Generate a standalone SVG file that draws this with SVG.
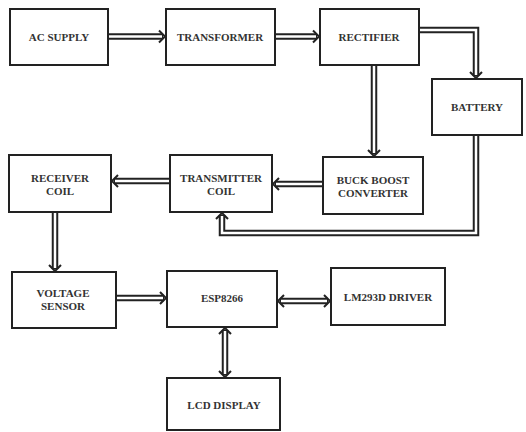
<svg xmlns="http://www.w3.org/2000/svg" xmlns:xlink="http://www.w3.org/1999/xlink" width="526" height="432" viewBox="0 0 526 432">
<style>
.box{fill:#fff;stroke:#222;stroke-width:2}
.t{font-family:"Liberation Serif","Times New Roman",serif;font-weight:bold;font-size:11px;fill:#333;text-anchor:middle}
.so{fill:none;stroke:#222;stroke-width:6.5;stroke-linejoin:miter}
.si{fill:none;stroke:#fff;stroke-width:2.5;stroke-linejoin:miter}
.hd{fill:none;stroke:#222;stroke-width:2}
</style>
<defs>
<path id="head" class="hd" d="M-6,-6 L0,0 L-6,6"/>
</defs>
<rect width="526" height="432" fill="#fff"/>
<g id="connectors">
<!-- AC -> Transformer -->
<path class="so" d="M108,36.5 H163"/><path class="si" d="M107,36.5 H162"/>
<use xlink:href="#head" transform="translate(165,36.5)"/>
<!-- Transformer -> Rectifier -->
<path class="so" d="M275,36.5 H317"/><path class="si" d="M274,36.5 H316"/>
<use xlink:href="#head" transform="translate(319,36.5)"/>
<!-- Rectifier -> Battery -->
<path class="so" d="M419,30 H476 V76"/><path class="si" d="M418,30 H476 V75"/>
<use xlink:href="#head" transform="translate(476,78) rotate(90)"/>
<!-- Rectifier -> Buck boost -->
<path class="so" d="M374,65 V154"/><path class="si" d="M374,66 V153"/>
<use xlink:href="#head" transform="translate(374,156) rotate(90)"/>
<!-- Buck boost -> Transmitter -->
<path class="so" d="M323,184 H275"/><path class="si" d="M324,184 H276"/>
<use xlink:href="#head" transform="translate(273,184) rotate(180)"/>
<!-- Transmitter -> Receiver -->
<path class="so" d="M170,181 H114"/><path class="si" d="M171,181 H115"/>
<use xlink:href="#head" transform="translate(112,181) rotate(180)"/>
<!-- Battery -> Transmitter -->
<path class="so" d="M476,135 V233 H222 V215"/><path class="si" d="M476,134 V233 H222 V216"/>
<use xlink:href="#head" transform="translate(222,213) rotate(-90)"/>
<!-- Receiver -> Voltage sensor -->
<path class="so" d="M55,212 V269"/><path class="si" d="M55,213 V268"/>
<use xlink:href="#head" transform="translate(55,271) rotate(90)"/>
<!-- Voltage sensor -> ESP -->
<path class="so" d="M116,298 H164"/><path class="si" d="M115,298 H163"/>
<use xlink:href="#head" transform="translate(166,298)"/>
<!-- ESP <-> LM293D -->
<path class="so" d="M280,301 H328"/><path class="si" d="M281,301 H327"/>
<use xlink:href="#head" transform="translate(330,301)"/>
<use xlink:href="#head" transform="translate(278,301) rotate(180)"/>
<!-- ESP <-> LCD -->
<path class="so" d="M225,330 V375"/><path class="si" d="M225,331 V374"/>
<use xlink:href="#head" transform="translate(225,377) rotate(90)"/>
<use xlink:href="#head" transform="translate(225,328) rotate(-90)"/>
</g>
<g id="ac-supply"><rect class="box" x="10" y="9" width="98" height="56"/><text class="t" x="59" y="41">AC SUPPLY</text></g>
<g id="transformer"><rect class="box" x="166" y="9" width="109" height="56"/><text class="t" x="220" y="41">TRANSFORMER</text></g>
<g id="rectifier"><rect class="box" x="320" y="9" width="99" height="56"/><text class="t" x="369" y="41">RECTIFIER</text></g>
<g id="battery"><rect class="box" x="432" y="79" width="90" height="56"/><text class="t" x="477" y="111">BATTERY</text></g>
<g id="receiver-coil"><rect class="box" x="9" y="155" width="102" height="57"/><text class="t" x="60" y="182">RECEIVER</text><text class="t" x="60" y="195">COIL</text></g>
<g id="transmitter-coil"><rect class="box" x="170" y="155" width="102" height="57"/><text class="t" x="221" y="182">TRANSMITTER</text><text class="t" x="221" y="195">COIL</text></g>
<g id="buck-boost"><rect class="box" x="323" y="157" width="100" height="57"/><text class="t" x="373" y="184">BUCK BOOST</text><text class="t" x="373" y="197">CONVERTER</text></g>
<g id="voltage-sensor"><rect class="box" x="12" y="272" width="104" height="56"/><text class="t" x="63" y="297">VOLTAGE</text><text class="t" x="63" y="310">SENSOR</text></g>
<g id="esp8266"><rect class="box" x="167" y="271" width="110" height="56"/><text class="t" x="222" y="302">ESP8266</text></g>
<g id="lm293d"><rect class="box" x="331" y="268" width="114" height="57"/><text class="t" x="388" y="301">LM293D DRIVER</text></g>
<g id="lcd-display"><rect class="box" x="167" y="378" width="113" height="52"/><text class="t" x="224" y="409">LCD DISPLAY</text></g>
</svg>
